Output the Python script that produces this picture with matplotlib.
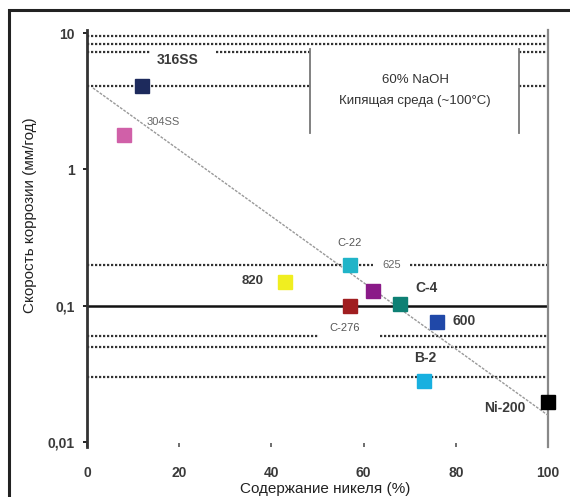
import matplotlib
matplotlib.use("Agg")
import matplotlib.pyplot as plt
from matplotlib.patches import Rectangle

plt.rcParams['font.family'] = ['Liberation Sans', 'DejaVu Sans']

# ---- data ----
alloys = ["316SS", "304SS", "C-22", "625", "820", "C-276", "C-4", "600", "B-2", "Ni-200"]
nickel = [12, 8, 57, 62, 43, 57, 68, 76, 73, 100]
rate = [4.1, 1.8, 0.2, 0.128, 0.15, 0.1, 0.102, 0.076, 0.028, 0.0197]
colors = ["#1d2a5c", "#d060a8", "#20b4c8", "#8a1a88", "#f0ee20", "#a01e20",
          "#0e8074", "#2048a8", "#18b0e0", "#000000"]

trend_x = [1.3, 100]
trend_y = [3.95, 0.0157]

# dotted reference levels: (value, list of x-segments)
levels = [
    (9.5, [(0, 100)]),
    (8.3, [(0, 100)]),
    (7.2, [(0, 13.7), (28, 48.4), (93.7, 100)]),
    (4.1, [(0, 48.4), (93.7, 100)]),
    (0.2, [(0, 62), (70, 100)]),
    (0.06, [(0, 50), (63.6, 100)]),
    (0.05, [(0, 100)]),
    (0.03, [(0, 100)]),
]
solid_level = 0.1
box_x = [48.4, 93.7]
box_y = (7.6, 1.85)

yticks = [10, 1, 0.1, 0.01]
ytick_labels = ["10", "1", "0,1", "0,01"]
xticks = [0, 20, 40, 60, 80, 100]

fig = plt.figure(figsize=(5.70, 4.97), dpi=100)
ax = fig.add_axes([87/570, 50/497, 461/570, 417/497])
ax.set_yscale('log')
ax.set_xlim(0, 100)
ax.set_ylim(0.00919, 10.52)

for val, segs in levels:
    for a, b in segs:
        ax.plot([a, b], [val, val], color="#333333", lw=1.6, ls=(0, (1, 0.8)), zorder=2)
ax.plot([0, 100], [solid_level, solid_level], color="#111111", lw=1.8, zorder=2)
for bx in box_x:
    ax.plot([bx, bx], list(box_y), color="#777777", lw=1.3, zorder=2)

ax.plot(trend_x, trend_y, color="#999999", lw=1.0, ls=(0, (2, 1)), zorder=3)

for x, y, c in zip(nickel, rate, colors):
    ax.plot([x], [y], marker='s', ms=9.5, color=c, mec=c, ls='none', zorder=4,
            clip_on=False)

# labels: (px, py, fontsize, colour, weight)
lab_props = {
    "316SS": (178, 60, 10, "#3a3a3a", "bold"),
    "304SS": (163, 122, 8, "#666666", "normal"),
    "C-22": (350, 243, 8, "#555555", "normal"),
    "625": (392, 265, 8, "#666666", "normal"),
    "820": (253, 281, 9.5, "#3a3a3a", "bold"),
    "C-276": (345, 328, 8, "#555555", "normal"),
    "C-4": (427, 288, 10, "#3a3a3a", "bold"),
    "600": (464, 321, 10, "#3a3a3a", "bold"),
    "B-2": (425, 358, 10, "#3a3a3a", "bold"),
    "Ni-200": (505, 408, 10, "#3a3a3a", "bold"),
}
for name in alloys:
    px, py, fs, col, wt = lab_props[name]
    fig.text(px/570, 1 - py/497, name, fontsize=fs, color=col, fontweight=wt,
             ha='center', va='center')

fig.text(415/570, 1 - 80/497, "60% NaOH", fontsize=9.5, color="#333333",
         ha='center', va='center')
fig.text(415/570, 1 - 101/497, "Кипящая среда (~100°C)", fontsize=9.5,
         color="#333333", ha='center', va='center')

ax.set_yticks(yticks)
ax.set_yticklabels(ytick_labels, fontweight='bold')
ax.minorticks_off()
ax.set_xticks(xticks)
ax.set_xticklabels([str(t) for t in xticks], fontweight='bold')
ax.tick_params(axis='y', direction='out', length=3, width=1.2, labelsize=10,
               labelcolor="#3a3a3a", pad=6)
ax.tick_params(axis='x', direction='in', length=3, width=1.2, labelsize=10,
               labelcolor="#3a3a3a", pad=14, color="#555555")

for s in ['top', 'bottom']:
    ax.spines[s].set_visible(False)
ax.spines['left'].set_color("#333333")
ax.spines['left'].set_linewidth(2)
ax.spines['right'].set_color("#888888")
ax.spines['right'].set_linewidth(1.6)

fig.text(30/570, 1 - 215/497, "Скорость коррозии (мм/год)", rotation=90,
         fontsize=11, color="#222222", ha='center', va='center')
fig.text(325/570, 1 - 489/497, "Содержание никеля (%)", fontsize=11,
         color="#222222", ha='center', va='center')

fig.patches.append(Rectangle((9/570, -0.1), 1.2, 1.1 - 10/497,
                             transform=fig.transFigure, fill=False,
                             lw=2.2, ec="#222222"))

fig.savefig("out.png", dpi=100)
